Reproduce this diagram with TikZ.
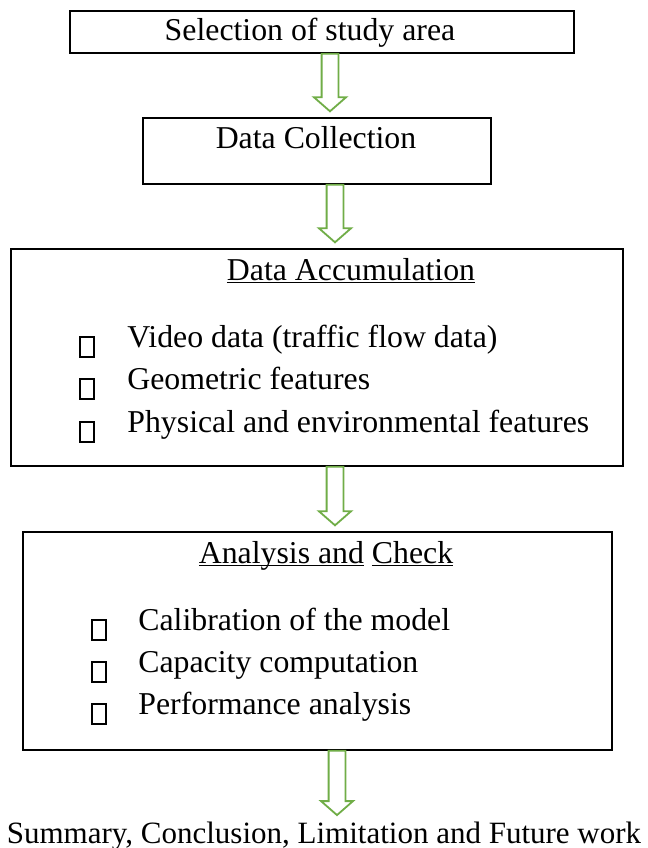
\documentclass[tikz,border=0pt]{standalone}
\usepackage{fontspec}
\setmainfont{Liberation Serif}
\usetikzlibrary{positioning,calc}
\definecolor{flowgreen}{HTML}{70AD47}
\newsavebox{\ulbox}
\newcommand{\ulined}[1]{\sbox{\ulbox}{#1}\rlap{\rule[-1.6pt]{\wd\ulbox}{0.65pt}}\usebox{\ulbox}}
\newcommand{\Flow}[3][333]{\draw[flow] let \p0=(#1,0), \p1=(#2.south), \p2=(#3.north) in
	(\x0-4.2pt,\y1) -- (\x0+4.2pt,\y1) -- (\x0+4.2pt,\y2+10pt) -- (\x0+8pt,\y2+10pt)
	-- (\x0,\y2+3pt) -- (\x0-8pt,\y2+10pt) -- (\x0-4.2pt,\y2+10pt) -- cycle;}

\begin{document}
\begin{tikzpicture}[x=0.5pt, y=-0.5pt,
	font=\fontsize{15.9}{19}\selectfont,
	stage/.style={draw, line width=0.7pt, inner sep=0pt},
	label/.style={inner sep=0pt, anchor=base},
	item/.style={inner sep=0pt, anchor=base west},
	tofu/.style={draw, line width=0.85pt, minimum width=7pt, minimum height=10pt, inner sep=0pt},
	flow/.style={draw=flowgreen, fill=white, line width=0.9pt, line join=miter}]
\useasboundingbox (0,0) rectangle (648,848);

	\node[stage, minimum width=252pt, minimum height=21pt] (study) at (322,32) {};
	\node[stage, minimum width=174pt, minimum height=33pt] (collect) at (317,151) {};
	\node[stage, minimum width=306pt, minimum height=108.5pt] (accum) at (317,357.5) {};
	\node[stage, minimum width=294.5pt, minimum height=109pt] (check) at (317.5,641) {};

	\node[label] (studyT) at (310,40) {Selection of study area};
	\node[label] (collectT) at (316,148) {Data Collection};
	\node[label] (accumT) at (351,280) {\ulined{Data Accumulation}};
	\node[label] (checkT) at (326,563) {\ulined{Analysis and} \ulined{Check}};
	\node[label, font=\fontsize{15.5}{19}\selectfont] (summary) at (324,843) {Summary, Conclusion, Limitation and Future work};

	\node[item] (video) at (127,347) {Video data (traffic flow data)};
	\node[item] (geom) at (127,389) {Geometric features};
	\node[item] (phys) at (127,432) {Physical and environmental features};

	\node[item] (calib) at (138,630) {Calibration of the model};
	\node[item] (capac) at (138,672) {Capacity computation};
	\node[item] (perf) at (138,714) {Performance analysis};

	\node[tofu, left=16pt of video.base west] (videoB) {};
	\node[tofu, left=16pt of geom.base west] (geomB) {};
	\node[tofu, left=16pt of phys.base west] (physB) {};

	\node[tofu, left=15.5pt of calib.base west] (calibB) {};
	\node[tofu, left=15.5pt of capac.base west] (capacB) {};
	\node[tofu, left=15.5pt of perf.base west] (perfB) {};

	\Flow[330]{study}{collect}
	\Flow[335]{collect}{accum}
	\Flow[335]{accum}{check}
	\Flow[337]{check}{summary}

\end{tikzpicture}
\end{document}
